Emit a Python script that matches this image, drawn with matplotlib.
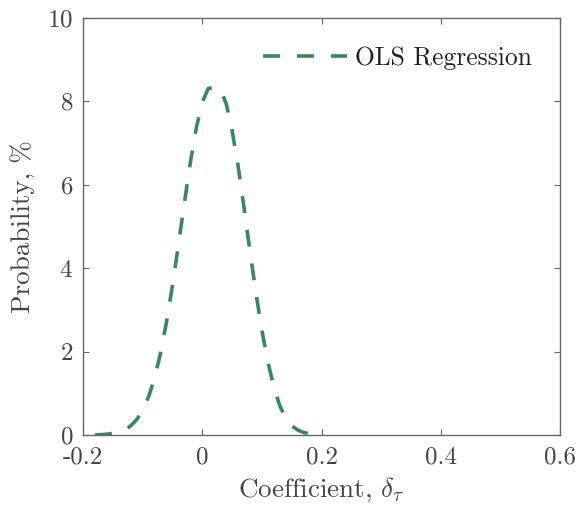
import numpy as np
import matplotlib
matplotlib.use("Agg")
import matplotlib.pyplot as plt

plt.rcParams['font.family'] = 'cmr10'
plt.rcParams['mathtext.fontset'] = 'cm'
plt.rcParams['axes.unicode_minus'] = False
plt.rcParams['axes.formatter.use_mathtext'] = True

# coefficient grid and probability (%)
coef = [-0.18, -0.17, -0.16, -0.15, -0.14, -0.13, -0.12, -0.11, -0.10, -0.09,
        -0.08, -0.07, -0.06, -0.05, -0.04, -0.03, -0.02, -0.01, 0.00, 0.01,
        0.02, 0.03, 0.04, 0.05, 0.06, 0.07, 0.08, 0.09, 0.10, 0.11,
        0.12, 0.13, 0.14, 0.15, 0.16, 0.17, 0.18, 0.19, 0.20]
prob = [0.00, 0.01, 0.02, 0.04, 0.07, 0.12, 0.22, 0.37, 0.59, 0.92,
        1.37, 1.97, 2.71, 3.59, 4.56, 5.57, 6.54, 7.37, 7.98, 8.31,
        8.33, 8.31, 7.95, 7.30, 6.45, 5.45, 4.40, 3.40, 2.50, 1.75,
        1.15, 0.70, 0.40, 0.22, 0.12, 0.06, 0.03, 0.01, 0.00]

xticks = [-0.2, 0, 0.2, 0.4, 0.6]
xtick_labels = ['-0.2', '0', '0.2', '0.4', '0.6']
yticks = [0, 2, 4, 6, 8, 10]

fig = plt.figure(figsize=(5.79, 5.07), dpi=100)
ax = fig.add_axes([0.1434, 0.142, 0.824, 0.8225])

ax.plot(coef, prob, color='#3A8660', linestyle='--', linewidth=2.6,
        dashes=(4.7, 4.7), label='OLS Regression')

ax.set_xlim(-0.2, 0.6)
ax.set_ylim(0, 10)
ax.set_xticks(xticks)
ax.set_xticklabels(xtick_labels)
ax.set_yticks(yticks)

grey = '#454545'
for s in ax.spines.values():
    s.set_color('#666666')
    s.set_linewidth(1.0)
ax.tick_params(direction='in', length=4, width=0.8, colors='#666666',
               labelcolor=grey, labelsize=18, top=True, right=True)
ax.tick_params(axis='x', pad=8)
ax.tick_params(axis='y', pad=7)

ax.set_xlabel(r'Coefficient, $\delta_\tau$', fontsize=19.5, color=grey, labelpad=5)
ax.set_ylabel('Probability, %', fontsize=19.5, color=grey, labelpad=8)

leg = ax.legend(loc='center right', frameon=False, fontsize=18.4,
                handlelength=3.3, handletextpad=0.3, borderpad=0,
                borderaxespad=0, bbox_to_anchor=(0.941, 0.904))
for t in leg.get_texts():
    t.set_color('#222222')

fig.savefig('out.png', dpi=100)
